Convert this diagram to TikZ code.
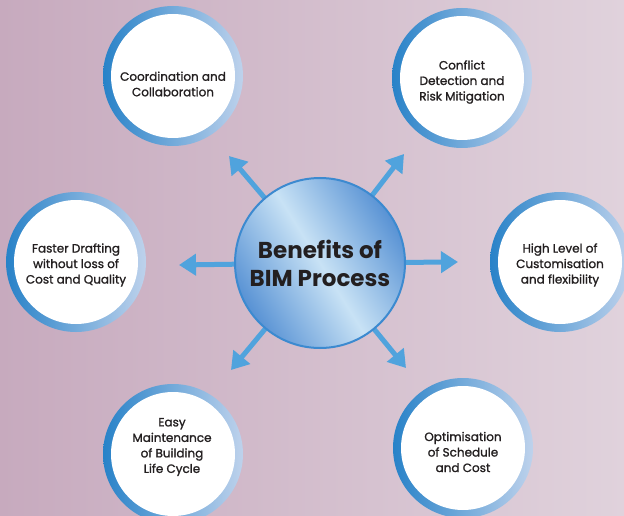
\documentclass[tikz,border=0pt]{standalone}
\usepackage{fontspec}
\setmainfont{Poppins}
\newfontfamily\medfont[FakeBold=1.3]{Poppins}
\usetikzlibrary{arrows.meta,shadings}
\definecolor{bgL}{RGB}{199,170,190}
\definecolor{bgR}{RGB}{224,210,220}
\definecolor{ringL}{RGB}{40,130,200}
\definecolor{ringR}{RGB}{190,210,236}
\definecolor{arr}{RGB}{80,163,221}
\definecolor{txt}{RGB}{35,31,32}
\definecolor{cbord}{RGB}{60,138,208}
\definecolor{cdark}{RGB}{88,146,212}
\definecolor{clight}{RGB}{200,226,245}
\begin{document}
\begin{tikzpicture}[x=1pt,y=-1pt,
  ring/.style={circle,minimum size=140pt,inner sep=0pt,left color=ringL,right color=ringR,draw=none},
  hole/.style={circle,minimum size=124pt,inner sep=0pt,fill=white},
  lbl/.style={align=center,text=txt,inner sep=0pt,font=\medfont\fontsize{12}{15.5}\selectfont},
  spoke/.style={draw=arr,line width=5pt,-{Triangle[length=17pt,width=21pt]},shorten <=78pt},
  hub/.style={circle,minimum size=170pt,inner sep=0pt,draw=cbord,line width=2pt,
    top color=cdark,bottom color=cdark,middle color=clight,shading angle=122,
    align=center,text=txt,font=\bfseries\fontsize{23}{28}\selectfont}]
\useasboundingbox (0,0) rectangle (624,516);
\shade[left color=bgL,right color=bgR] (0,0) rectangle (624,516);
\coordinate (cc) at (320,263);
\coordinate (t1) at (229,156);
\coordinate (t2) at (404,154);
\coordinate (t3) at (179,265);
\coordinate (t4) at (458,262);
\coordinate (t5) at (231,370);
\coordinate (t6) at (406,368);
\foreach \t in {t1,t2,t3,t4,t5,t6} \draw[spoke] (cc) -- (\t);
\node[hub] (c) at (cc) {Benefits of\\BIM Process};
\node[ring] (r1) at (173,76) {};
\node[hole] (h1) at (r1) {};
\node[lbl] (l1) at (173,84) {Coordination and\\Collaboration};
\node[ring] (r2) at (462,78) {};
\node[hole] (h2) at (r2) {};
\node[lbl] (l2) at (462,82) {Conflict\\Detection and\\Risk Mitigation};
\node[ring] (r3) at (76,262) {};
\node[hole] (h3) at (r3) {};
\node[lbl] (l3) at (76,265) {Faster Drafting\\without loss of\\Cost and Quality};
\node[ring] (r4) at (560,262) {};
\node[hole] (h4) at (r4) {};
\node[lbl] (l4) at (560,265) {High Level of\\Customisation\\and flexibility};
\node[ring] (r5) at (173,454) {};
\node[hole] (h5) at (r5) {};
\node[lbl] (l5) at (172,447) {Easy\\Maintenance\\of Building\\Life Cycle};
\node[ring] (r6) at (463,448) {};
\node[hole] (h6) at (r6) {};
\node[lbl] (l6) at (463,452) {Optimisation\\of Schedule\\and Cost};
\end{tikzpicture}
\end{document}
